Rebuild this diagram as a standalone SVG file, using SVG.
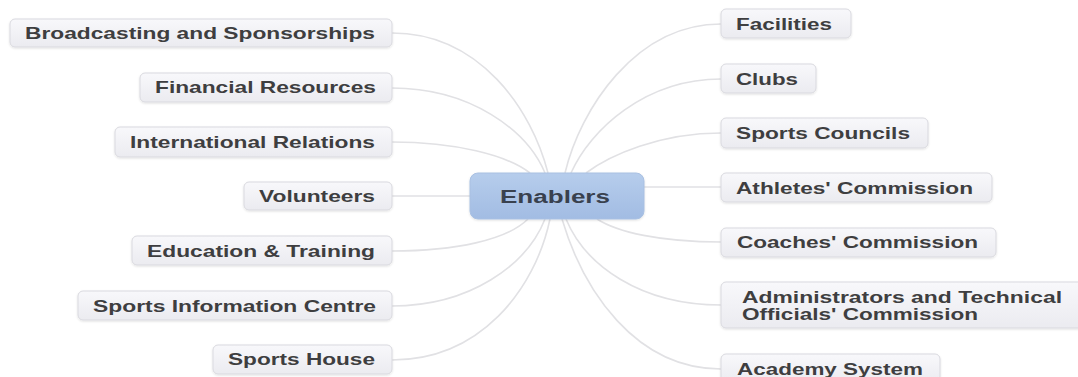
<svg xmlns="http://www.w3.org/2000/svg" width="1078" height="377" viewBox="0 0 1078 377">
<defs>
<linearGradient id="nodeFill" x1="0" y1="0" x2="0" y2="1">
<stop offset="0" stop-color="#f8f8fb"/>
<stop offset="1" stop-color="#ebebf0"/>
</linearGradient>
<linearGradient id="centerFill" x1="0" y1="0" x2="0" y2="1">
<stop offset="0" stop-color="#b6cdec"/>
<stop offset="1" stop-color="#a2bce3"/>
</linearGradient>
<filter id="shadow" x="-10%" y="-20%" width="120%" height="150%">
<feDropShadow dx="0" dy="1" stdDeviation="1" flood-color="#000" flood-opacity="0.12"/>
</filter>
</defs>
<style>
.node rect{fill:url(#nodeFill);stroke:#d9d9df;stroke-width:1;filter:url(#shadow)}
.node text{font-family:"Liberation Sans",Arial,sans-serif;font-weight:bold;font-size:16.5px;fill:#3e3e40}
.center rect{fill:url(#centerFill);stroke:#a9c0e2;stroke-width:1;filter:url(#shadow)}
.center text{font-family:"Liberation Sans",Arial,sans-serif;font-weight:bold;font-size:18px;fill:#39414e}
.conn path{fill:none;stroke:#e1e1e4;stroke-width:1.6}
</style>
<rect width="1078" height="377" fill="#ffffff"/>
<g id="connectors" class="conn">
<path d="M392,33 C480,33 532,110 548,173"/>
<path d="M392,88 C470,88 527,130 545,173"/>
<path d="M392,142 C455,142 507,155 530,173"/>
<path d="M392,196 L470,196"/>
<path d="M392,251 C455,251 507,240 528,219"/>
<path d="M392,306 C470,306 527,265 545,219"/>
<path d="M392,360 C480,360 535,290 550,219"/>
<path d="M721,24 C635,24 580,110 565,173"/>
<path d="M721,79 C645,79 590,130 571,173"/>
<path d="M721,133 C660,133 610,155 586,173"/>
<path d="M644,187 L721,187"/>
<path d="M721,242 C660,242 617,232 597,219"/>
<path d="M721,305 C640,305 585,265 566,219"/>
<path d="M721,369 C635,369 583,290 562,219"/>
</g>
<g id="center" class="center">
<rect x="470" y="173" width="174" height="46" rx="8"/>
<text x="500" y="203" textLength="110" lengthAdjust="spacingAndGlyphs">Enablers</text>
</g>
<g id="broadcasting" class="node">
<rect x="10" y="19" width="382" height="28" rx="5"/>
<text x="25" y="39" textLength="350" lengthAdjust="spacingAndGlyphs">Broadcasting and Sponsorships</text>
</g>
<g id="financial" class="node">
<rect x="140" y="73" width="252" height="29" rx="5"/>
<text x="155" y="93" textLength="221" lengthAdjust="spacingAndGlyphs">Financial Resources</text>
</g>
<g id="international" class="node">
<rect x="115" y="127" width="277" height="30" rx="5"/>
<text x="130" y="147.5" textLength="245" lengthAdjust="spacingAndGlyphs">International Relations</text>
</g>
<g id="volunteers" class="node">
<rect x="244" y="182" width="148" height="28" rx="5"/>
<text x="259" y="202" textLength="116" lengthAdjust="spacingAndGlyphs">Volunteers</text>
</g>
<g id="education" class="node">
<rect x="132" y="236" width="260" height="29" rx="5"/>
<text x="147" y="257" textLength="228" lengthAdjust="spacingAndGlyphs">Education &amp; Training</text>
</g>
<g id="sports-info" class="node">
<rect x="78" y="291" width="314" height="29" rx="5"/>
<text x="93" y="312" textLength="283" lengthAdjust="spacingAndGlyphs">Sports Information Centre</text>
</g>
<g id="sports-house" class="node">
<rect x="213" y="345" width="179" height="29" rx="5"/>
<text x="228" y="365" textLength="147" lengthAdjust="spacingAndGlyphs">Sports House</text>
</g>
<g id="facilities" class="node">
<rect x="721" y="9" width="130" height="29" rx="5"/>
<text x="736" y="30" textLength="96" lengthAdjust="spacingAndGlyphs">Facilities</text>
</g>
<g id="clubs" class="node">
<rect x="721" y="64" width="95" height="29" rx="5"/>
<text x="736" y="84.5" textLength="62" lengthAdjust="spacingAndGlyphs">Clubs</text>
</g>
<g id="sports-councils" class="node">
<rect x="721" y="118" width="207" height="30" rx="5"/>
<text x="736" y="139" textLength="174" lengthAdjust="spacingAndGlyphs">Sports Councils</text>
</g>
<g id="athletes" class="node">
<rect x="721" y="173" width="271" height="29" rx="5"/>
<text x="736" y="194" textLength="237" lengthAdjust="spacingAndGlyphs">Athletes' Commission</text>
</g>
<g id="coaches" class="node">
<rect x="721" y="228" width="275" height="29" rx="5"/>
<text x="737" y="248" textLength="241" lengthAdjust="spacingAndGlyphs">Coaches' Commission</text>
</g>
<g id="administrators" class="node">
<rect x="721" y="282" width="362" height="46" rx="5"/>
<text x="742" y="303" textLength="320" lengthAdjust="spacingAndGlyphs">Administrators and Technical</text>
<text x="742" y="320" textLength="236" lengthAdjust="spacingAndGlyphs">Officials' Commission</text>
</g>
<g id="academy" class="node">
<rect x="721" y="354" width="219" height="30" rx="5"/>
<text x="737" y="375" textLength="186" lengthAdjust="spacingAndGlyphs">Academy System</text>
</g>
</svg>
